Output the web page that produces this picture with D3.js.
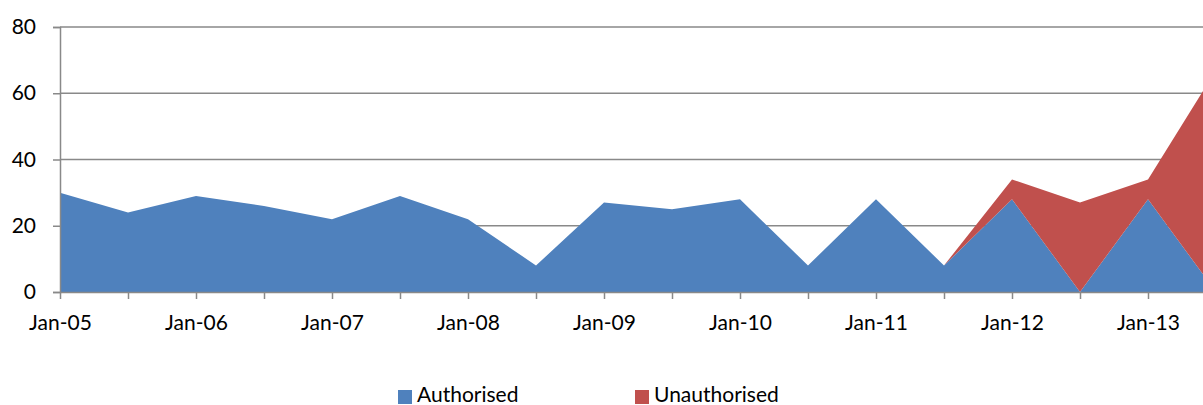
<!DOCTYPE html>
<html>
<head>
<meta charset="utf-8">
<script src="https://cdn.jsdelivr.net/npm/d3@7"></script>
<style>
  body { margin: 0; background: #fff; }
  svg { display: block; font-family: Lato, "Liberation Sans", sans-serif; }
</style>
</head>
<body>
<div id="chart"></div>
<script>
// --- data ---
const periods = ["Jan-05","Jul-05","Jan-06","Jul-06","Jan-07","Jul-07","Jan-08","Jul-08","Jan-09",
                 "Jul-09","Jan-10","Jul-10","Jan-11","Jul-11","Jan-12","Jul-12","Jan-13","Jul-13"];
const authorised   = [30, 24, 29, 26, 22, 29, 22, 8, 27, 25, 28, 8, 28, 8, 28, 0, 28, 0];
const unauthorised = [ 0,  0,  0,  0,  0,  0,  0, 0,  0,  0,  0, 0,  0, 0,  6, 27, 6, 67];
const yTicks = [0, 20, 40, 60, 80];
const seriesNames = ["Authorised", "Unauthorised"];
const seriesColors = ["#4F81BD", "#C0504D"];

// --- layout ---
const width = 1203, height = 405;
const margin = { top: 27, left: 60, bottom: 113 };
const xRight = 1216; // last period falls just past the cropped edge
const gridColor = "#898989";
const fontSize = 21;

const rows = periods.map((p, i) => ({ period: p, Authorised: authorised[i], Unauthorised: unauthorised[i] }));

const x = d3.scalePoint()
  .domain(periods)
  .range([margin.left, xRight]);

const y = d3.scaleLinear()
  .domain([0, 80])
  .range([height - margin.bottom, margin.top]);

const color = d3.scaleOrdinal().domain(seriesNames).range(seriesColors);

const stack = d3.stack().keys(seriesNames)(rows);

const svg = d3.select("#chart")
  .append("svg")
  .attr("width", width)
  .attr("height", height);

// gridlines (behind areas)
svg.append("g")
  .selectAll("line")
  .data(yTicks.filter(d => d > 0))
  .join("line")
  .attr("x1", margin.left)
  .attr("x2", xRight)
  .attr("y1", d => y(d))
  .attr("y2", d => y(d))
  .attr("stroke", gridColor)
  .attr("stroke-width", 1.5);

// stacked areas
const area = d3.area()
  .x(d => x(d.data.period))
  .y0(d => y(d[0]))
  .y1(d => y(d[1]));

svg.append("g")
  .selectAll("path")
  .data(stack)
  .join("path")
  .attr("fill", d => color(d.key))
  .attr("d", area);

// y axis
svg.append("g")
  .attr("transform", `translate(${margin.left},0)`)
  .call(d3.axisLeft(y).tickValues(yTicks).tickSize(7).tickPadding(17))
  .call(g => g.selectAll("line, path").attr("stroke", gridColor).attr("stroke-width", 1.5))
  .call(g => g.selectAll("text").attr("fill", "#000").attr("font-size", fontSize).attr("font-family", "Lato, sans-serif"));

// x axis
svg.append("g")
  .attr("transform", `translate(0,${y(0)})`)
  .call(d3.axisBottom(x).tickSize(7).tickPadding(16).tickSizeOuter(0)
    .tickFormat(d => d.startsWith("Jan") ? d : ""))
  .call(g => g.selectAll("line, path").attr("stroke", gridColor).attr("stroke-width", 1.5))
  .call(g => g.selectAll("text").attr("fill", "#000").attr("font-size", fontSize).attr("font-family", "Lato, sans-serif"));

// legend
const legendX = d3.scaleOrdinal().domain(seriesNames).range([398, 635]);
const legend = svg.append("g")
  .selectAll("g")
  .data(seriesNames)
  .join("g")
  .attr("transform", d => `translate(${legendX(d)},390)`);

legend.append("rect")
  .attr("width", 14)
  .attr("height", 14)
  .attr("fill", d => color(d));

legend.append("text")
  .attr("x", 19)
  .attr("y", 12)
  .attr("font-size", fontSize)
  .text(d => d);
</script>
</body>
</html>
